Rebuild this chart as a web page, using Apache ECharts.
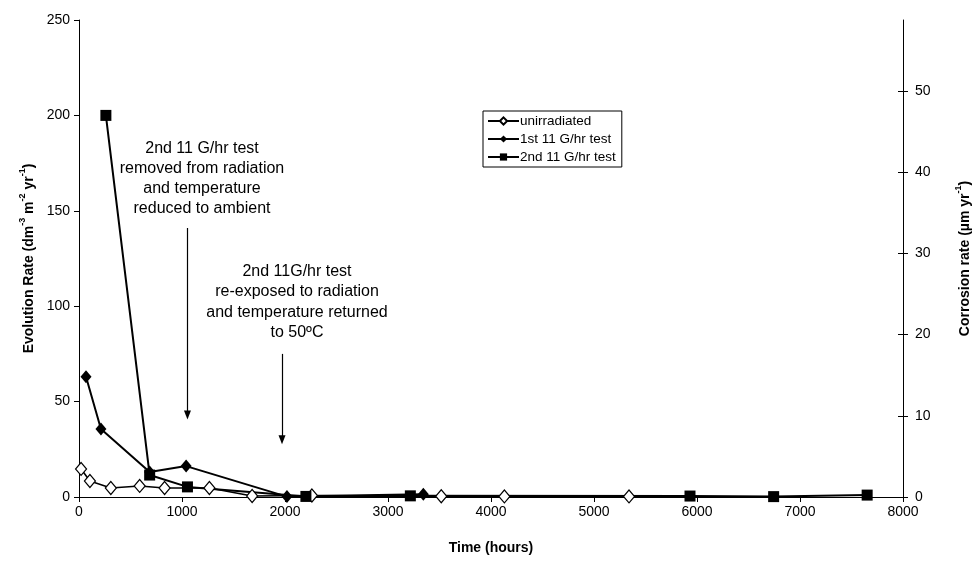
<!DOCTYPE html>
<html>
<head>
<meta charset="utf-8">
<script src="https://cdn.jsdelivr.net/npm/echarts@6/dist/echarts.min.js"></script>
<style>
html,body{margin:0;padding:0;background:#fff;}
#c{width:974px;height:566px;}
</style>
</head>
<body>
<div id="c"></div>
<script>
// ---- data ----
var unirrX = [20, 106, 309, 589, 831, 1266, 1681, 2261, 3517, 4130, 5340];
var unirrY = [14.7, 8.4, 4.7, 5.8, 4.7, 4.7, 0.5, 0.8, 0.4, 0.3, 0.3];
var firstX = [68, 213, 686, 1040, 2019, 3343];
var firstY = [63, 35.6, 13.1, 16.2, 0.2, 1.5];
var secondX = [261, 686, 1053, 2203, 3217, 5932, 6744, 7652];
var secondY = [200, 11.5, 5.3, 0.3, 0.6, 0.5, 0.2, 1.0];
var seriesNames = ['unirradiated', '1st 11 G/hr test', '2nd 11 G/hr test'];
var xTicks = {min: 0, max: 8000, interval: 1000};
var leftTicks = {min: 0, max: 250, interval: 50};
var rightTicks = {min: 0, max: 58.75, interval: 10};
var rightTickValues = [0, 10, 20, 30, 40, 50];
// annotation arrows in data units [x, yStart, yEnd]
var arrow1 = [1053, 141, 43];
var arrow2 = [1971, 75, 30];

function pairs(xs, ys) { return xs.map(function (x, i) { return [x, ys[i]]; }); }

var FONT = 'Liberation Sans';
var chart = echarts.init(document.getElementById('c'), null, {renderer: 'canvas'});

var axisCommon = {
  axisLine: {show: true, lineStyle: {color: '#000', width: 1}},
  axisTick: {show: true, length: 5, lineStyle: {color: '#000'}},
  splitLine: {show: false},
  axisLabel: {color: '#000', fontFamily: FONT, fontSize: 14}
};
var richName = {
  t: {fontFamily: FONT, fontSize: 14, fontWeight: 'bold', color: '#000', lineHeight: 18, verticalAlign: 'bottom'},
  s: {fontFamily: FONT, fontSize: 9, fontWeight: 'bold', color: '#000', lineHeight: 18, verticalAlign: 'top', padding: [0, 0, 8, 0]}
};

chart.setOption({
  animation: false,
  backgroundColor: '#fff',
  textStyle: {fontFamily: FONT},
  grid: {left: 79, right: 71, top: 20, bottom: 69, outerBoundsMode: 'none', containLabel: false},
  legend: {
    orient: 'vertical',
    left: 483, top: 111,
    data: seriesNames,
    backgroundColor: '#fff',
    borderColor: '#000', borderWidth: 1, borderRadius: 0,
    padding: [3, 6, 3, 4],
    itemGap: 4,
    itemWidth: 31, itemHeight: 9,
    textStyle: {fontFamily: FONT, fontSize: 13.5, color: '#000', padding: [0, 0, 0, -4]}
  },
  xAxis: Object.assign({}, axisCommon, {
    type: 'value', min: xTicks.min, max: xTicks.max, interval: xTicks.interval,
    name: 'Time (hours)', nameLocation: 'middle', nameGap: 44,
    nameTextStyle: {fontFamily: FONT, fontSize: 14, fontWeight: 'bold', color: '#000'},
    axisLabel: {color: '#000', fontFamily: FONT, fontSize: 14, margin: 8,
      formatter: function (v) { return String(v); }}
  }),
  yAxis: [
    Object.assign({}, axisCommon, {
      type: 'value', position: 'left', min: leftTicks.min, max: leftTicks.max, interval: leftTicks.interval,
      name: '{t|Evolution Rate (dm}{s|-3}{t| m}{s|-2}{t| yr}{s|-1}{t|)}',
      nameLocation: 'middle', nameGap: 40, nameRotate: 90,
      nameTextStyle: {rich: richName},
      axisLabel: {color: '#000', fontFamily: FONT, fontSize: 14, margin: 9}
    }),
    Object.assign({}, axisCommon, {
      type: 'value', position: 'right', min: rightTicks.min, max: rightTicks.max, interval: rightTicks.interval,
      name: '{t|Corrosion rate (µm yr}{s|-1}{t|)}',
      nameLocation: 'middle', nameGap: 51, nameRotate: 90,
      nameTextStyle: {rich: richName},
      axisTick: {show: true, length: 5, lineStyle: {color: '#000'}, customValues: rightTickValues},
      axisLabel: {color: '#000', fontFamily: FONT, fontSize: 14, margin: 12, customValues: rightTickValues}
    }),
    {
      type: 'value', position: 'right', min: rightTicks.min, max: rightTicks.max, interval: rightTicks.interval,
      axisLine: {show: false}, axisLabel: {show: false}, splitLine: {show: false},
      axisTick: {show: true, inside: true, length: 5, lineStyle: {color: '#000'}, customValues: rightTickValues}
    }
  ],
  series: [
    {
      name: seriesNames[0], type: 'line', data: pairs(unirrX, unirrY), yAxisIndex: 0,
      symbol: 'diamond', symbolSize: [11, 13],
      itemStyle: {color: '#fff', borderColor: '#000', borderWidth: 1.2},
      lineStyle: {color: '#000', width: 1.6}
    },
    {
      name: seriesNames[1], type: 'line', data: pairs(firstX, firstY), yAxisIndex: 0,
      symbol: 'diamond', symbolSize: [11, 13],
      itemStyle: {color: '#000', borderColor: '#000', borderWidth: 0},
      lineStyle: {color: '#000', width: 2}
    },
    {
      name: seriesNames[2], type: 'line', data: pairs(secondX, secondY), yAxisIndex: 0,
      symbol: 'rect', symbolSize: 11,
      itemStyle: {color: '#000', borderColor: '#000', borderWidth: 0},
      lineStyle: {color: '#000', width: 2},
      markLine: {
        silent: true, symbol: ['none', 'triangle'], symbolSize: [7, 9], symbolRotate: 180,
        label: {show: false},
        lineStyle: {color: '#000', width: 1.2, type: 'solid'},
        data: [
          [{coord: [arrow1[0], arrow1[1]]}, {coord: [arrow1[0], arrow1[2]]}],
          [{coord: [arrow2[0], arrow2[1]]}, {coord: [arrow2[0], arrow2[2]]}]
        ]
      }
    }
  ],
  graphic: [
    {
      type: 'text', x: 202, y: 139,
      style: {
        text: '2nd 11 G/hr test\nremoved from radiation\nand temperature\nreduced to ambient',
        textAlign: 'center', textVerticalAlign: 'top', fill: '#000', font: '16px "Liberation Sans"', lineHeight: 20
      }
    },
    {
      type: 'text', x: 297, y: 261,
      style: {
        text: '2nd 11G/hr test\nre-exposed to radiation\nand temperature returned\nto 50ºC',
        textAlign: 'center', textVerticalAlign: 'top', fill: '#000', font: '16px "Liberation Sans"', lineHeight: 20.5
      }
    }
  ]
});
</script>
</body>
</html>
